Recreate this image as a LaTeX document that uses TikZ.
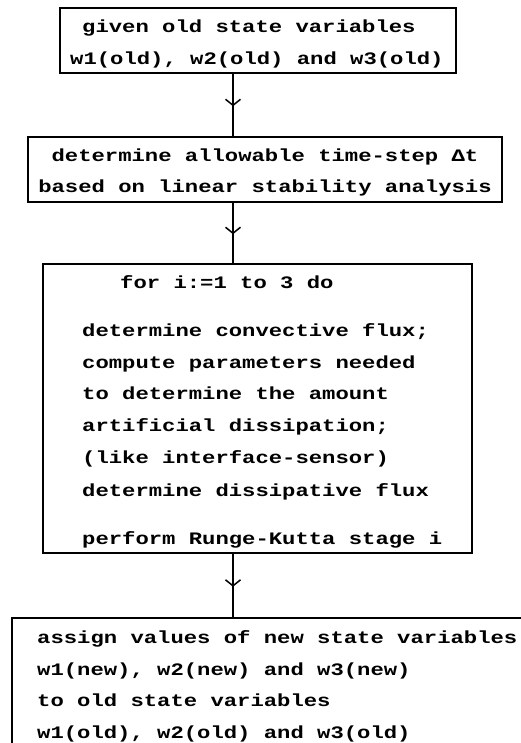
\documentclass[tikz,border=0pt]{standalone}
\usepackage{fontspec}
\newfontfamily\pfont{Liberation Mono}[FakeStretch=1.27]
\usetikzlibrary{arrows.meta,decorations.markings}
\begin{document}
\begin{tikzpicture}[x=1pt,y=-1pt,
  box/.style={draw, line width=1.5pt, inner sep=0pt},
  txt/.style={font=\pfont\bfseries\fontsize{17.5}{20}\selectfont, inner sep=0pt, anchor=base west},
  ctxt/.style={txt, anchor=base},
  conn/.style={line width=1.5pt,
    decoration={markings, mark=at position 0.52 with {\arrow[line width=1.5pt]{Straight Barb[length=6pt,width=15pt]}}},
    postaction=decorate}]
\useasboundingbox (0,0) rectangle (520,743);
% boxes
\node[box, minimum width=396pt, minimum height=65pt] (b1) at (258,40.5) {};
\node[box, minimum width=474pt, minimum height=65pt] (b2) at (265,169.5) {};
\node[box, minimum width=429pt, minimum height=289pt] (b3) at (257.5,408.5) {};
\node[box, minimum width=540pt, minimum height=160pt] (b4) at (282,698) {};
% texts
\node[txt] (t1a) at (82,32.3) {given old state variables};
\node[txt] (t1b) at (70,64.3) {w1(old), w2(old) and w3(old)};
\node[ctxt] (t2a) at (265,161.7) {determine allowable time-step Δt};
\node[ctxt] (t2b) at (265,192.7) {based on linear stability analysis};
\node[txt] (t3a) at (120,288) {for i:=1 to 3 do};
\node[txt] (t3b) at (82,336) {determine convective flux;};
\node[txt] (t3c) at (82,368) {compute parameters needed};
\node[txt] (t3d) at (82,399.5) {to determine the amount};
\node[txt] (t3e) at (82,431.5) {artificial dissipation;};
\node[txt] (t3f) at (82,463.5) {(like interface-sensor)};
\node[txt] (t3g) at (82,496) {determine dissipative flux};
\node[txt] (t3h) at (82,544) {perform Runge-Kutta stage i};
\node[txt] (t4a) at (37,643) {assign values of new state variables};
\node[txt] (t4b) at (37,675) {w1(new), w2(new) and w3(new)};
\node[txt] (t4c) at (37,706.5) {to old state variables};
\node[txt] (t4d) at (37,738) {w1(old), w2(old) and w3(old)};
% connectors
\coordinate (ax) at (233,0);
\draw[conn] (b1.south -| ax) -- (b2.north -| ax);
\draw[conn] (b2.south -| ax) -- (b3.north -| ax);
\draw[conn] (b3.south -| ax) -- (b4.north -| ax);
\end{tikzpicture}
\end{document}
